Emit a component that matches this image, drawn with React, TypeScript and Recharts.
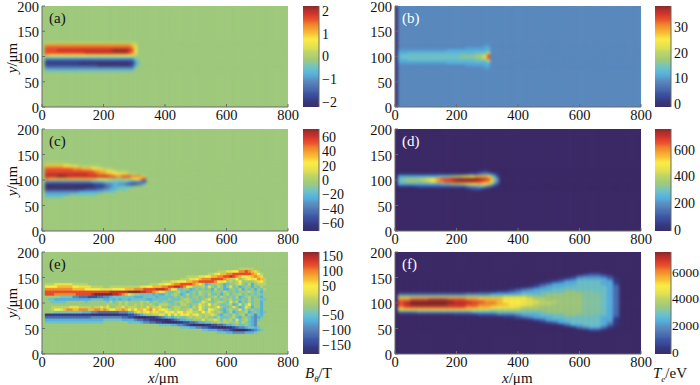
import { Bar, BarChart, Cell, Scatter, ScatterChart, XAxis, YAxis } from "recharts";

// colour levels 0-f low to high, g-i are in-between shades
const palette = [
  "#3c2a66", "#35377f", "#3a4f9f", "#4a6db1", "#5a89bd", "#55b1df", "#6fc3c6", "#9fc97d",
  "#b9d36a", "#e6e24e", "#fbec45", "#f9b933", "#f28b2d", "#e8492a", "#c42f2a", "#7c2a2a",
  "#589dce", "#62bad3", "#86c6a2",
];

const xTicks = [0, 200, 400, 600, 800];
const yTicks = [0, 50, 100, 150, 200];
const frameXY = [
  { x: 0, y: 0 },
  { x: 800, y: 200 },
];

const edgesA = [200, 130, 125, 120, 115, 110, 105, 100, 95, 90, 85, 80, 75, 70, 0];
const rowsA = [
  "",
  "7888888888 8888888888 8888888888 87",
  "7ccccccccc cccccccccc cccccccccb 97",
  "7ddddddddd dddddddddd dddddddddc 97",
  "7ddddeeeee eeeeeeeeee eeefffffed a7",
  "7ddddddddd ddddeeeeee eeeeeeeedc 97",
  "7baaaaaaaa aaaaaaaaaa aaaaaaaaa9 87",
  "7555555555 5555555555 5555555555 i7",
  "7222222222 2222222222 2222222222 5i",
  "7111111111 1100000000 0000000011 46",
  "7222222222 2222222211 1111111112 5i",
  "7444444444 4444444444 4444444444 i7",
  "7666666666 6666666666 6666666666 77",
  "",
];

const edgesB = [200, 125, 120, 115, 110, 105, 100, 95, 90, 85, 80, 75, 0];
const rowsB = [
  "0",
  "0444444444 4444444444 444444444g g",
  "0444444444 4444444444 444gggggg5 5",
  "0ggggggggg ggggggg555 5555555555 h",
  "0555hhhhhh hhhhhhhhhh hhhhhh6666 9",
  "0h66666666 6666666666 6iiiii7789 d",
  "0h66666666 6666666666 6iiiii7789 d",
  "0555hhhhhh hhhhhhhhhh hhhhhh6666 9",
  "0ggggggggg ggggggg555 5555555555 h",
  "0444444444 4444444444 444gggggg5 5",
  "0444444444 4444444444 444444444g g",
  "0",
];

const edgesC = [200, 135, 130, 125, 120, 115, 110, 105, 100, 95, 90, 85, 80, 75, 70, 65, 0];
const rowsC = [
  "",
  "7888888887",
  "7bbbbbbaaa 9988888887",
  "7ddddddddd cccbbbaa99 8887777777",
  "7ddddddddd dddddddccb ba99888877",
  "7eeeeeeeee eeeeedddcc cbbaa99988 8777",
  "7eeeefffee eeeeeeeeee eeddccdddc ccb87",
  "7cbbbbbbbb bbbbbbbbaa 9987777889 aacd7",
  "7444444444 4444445555 6666666654 44327",
  "7111111111 1111111222 3445544322 23467",
  "7000000000 0000000111 2345566666 777",
  "7111111111 1111222233 4455666677",
  "7444444444 4455555555 6666777777",
  "7555555556 6666666677",
  "7666666777",
  "",
];

const edgesD = [200, 120, 115, 110, 105, 100, 95, 90, 85, 80, 0];
const rowsD = [
  "",
  "0000000000 0000000000 0000000112 1000",
  "0111111111 1111111111 1111222344 43210",
  "0555555555 5555666677 8899aabbbb a8520",
  "0667777788 99abcdddee ffffffffee db740",
  "0667777778 89abccddde eeeeeeeddc ca640",
  "0555555555 5555566677 78899aabaa 97420",
  "0111111222 2222222222 2223444554 32100",
  "0000000000 0000000000 0001122211 0000",
  "",
];

const edgesE = [
  200, 170, 165, 160, 155, 150, 145, 140, 135, 130, 125, 120, 115, 110, 105, 100, 95, 90, 85, 80,
  75, 70, 65, 60, 55, 50, 45, 40, 0,
];
const rowsE = [
  "",
  "7777777777 7777777777 7777777777 7777777777 7777777777 7777777777 7777888887",
  "7777777777 7777777777 7777777777 7777777777 7777777777 7777777888 99aaccdcb9 8777",
  "7777777777 7777777777 7777777777 7777777777 7777777777 7777889abb ccddddddcb a877",
  "7777777777 7777777777 7777777777 7777777777 7777777888 899aabbccd dedcbaa9bc b977",
  "7777777777 7777777777 7777777777 7777777777 7777788899 abcccddddc b88a789a9a cb87",
  "7777777777 7777777777 7777777777 7777777778 8899aaabbc cdddddca9a 7878a77778 9a87",
  "7888999999 8888877777 7777777777 7777788899 aabccddddc ba85677875 6778976857 8887",
  "7aaaabbbbb aa99998888 7788888888 8899aabbbc cddeedca97 7786976875 7967567757 6877",
  "7ccccccccc bbbbaaaaa9 999aaaabbb cccddddeee dca9667756 7676758675 5776857675 7687",
  "7ddddddddd dddddddddd ddeeeeeeff ffeeddcba9 7667866567 6877767768 7676777876 7577",
  "7dddcccccc cdddddefff fffeedcb98 7766665655 7678756867 6876866757 8677867676 7677",
  "7777776666 4433322233 4456666666 5556666566 6667676767 7676778687 6768567867 6577",
  "7766555555 5555556666 5565656656 6666556666 6766678876 7678967767 7867676867 7667",
  "7776666677 7777677777 7686787877 7787867767 7667787876 6798767887 6978576867 7577",
  "7777777777 7777777777 7877787877 8787787688 8767688767 7987a78766 7856968a67 7577",
  "7778888889 9988887889 8977889788 8787978897 7678877768 7a87878a76 6797569857 7577",
  "7778aa9bcc bbcccbbccb cbaabbcbab abbabcab9a 9878877897 7a86a98765 7867968676 6577",
  "7777666666 6665554433 3333344455 8989a89988 a9a8aab998 87a8987875 6856778567 6567",
  "7111111111 1111110000 0000011122 3456778899 7a7a8a9a89 a878898657 7686785764 6577",
  "7333333333 3333334444 4444443322 1000111234 5656766787 8878776866 6786577654 5677",
  "7555555555 5555555555 6666665555 4332211001 0123455667 7797889868 7869678654 6777",
  "7666666666 6666666666 7777777766 6654433221 1000112233 4556677878 8778687654 7777",
  "7777777777 7777777777 7777777777 7777777766 6655443210 0001122334 5567667654 7777",
  "7777777777 7777777777 7777777777 7777777777 7777766655 4433211000 1123445665 6777",
  "7777777777 7777777777 7777777777 7777777777 7777777777 7766555443 3210001234 5677",
  "7777777777 7777777777 7777777777 7777777777 7777777777 7777777666 5544445556 7777",
  "",
];

// f is smooth, so its columns are 20 wide and start at -10
const edgesF = [
  200, 160, 155, 150, 145, 140, 135, 130, 125, 120, 115, 110, 105, 100, 95, 90, 85, 80, 75, 70, 65,
  60, 55, 50, 45, 0,
];
const rowsF = [
  "",
  "0000000000 0000000000 0000000000 0122100000",
  "0000000000 0000000000 0000000001 3444320000",
  "0000000000 0000000000 0000000123 5555531000",
  "0000000000 0000000000 0000012355 6666551000",
  "0000000000 0000000000 0001235555 6666552000",
  "0000000000 0000000000 0012455566 6666653000",
  "0000000000 0000000001 2345556666 6666653000",
  "0000000000 0000111223 4555666677 iii6653000",
  "0333333333 3344445555 5666677777 7iii653000",
  "0888888888 8888888899 9987777777 7iii653000",
  "0ccdddeeed ddccbbbbaa aa98877777 7iii653000",
  "0defffffff eeeddccbaa a999888777 7iii653000",
  "0deffffffe eeddcccbba aa98887777 7iii653000",
  "0cdddddddd ddccbbaaaa 9888777777 7iii653000",
  "0999999999 9999998888 8777777777 7iii653000",
  "0333444444 4445555666 6666677777 7iii653000",
  "0000000000 1111222333 4555666677 iii6653000",
  "0000000000 0000000011 2345556666 6666552000",
  "0000000000 0000000000 0012355566 6666551000",
  "0000000000 0000000000 0000123556 6666541000",
  "0000000000 0000000000 0000000135 5666531000",
  "0000000000 0000000000 0000000001 3455310000",
  "0000000000 0000000000 0000000000 0122100000",
  "",
];

const barEdges = [16, 15, 14, 13, 12, 11, 10, 9, 8, 7, 6, 5, 4, 3, 2, 1, 0];
const barRows = ["f", "e", "d", "c", "b", "a", "9", "8", "7", "6", "5", "4", "3", "2", "1", "0"];

const ticksA = [-2, -1, 0, 1, 2];
const ticksB = [0, 10, 20, 30];
const ticksC = [-60, -40, -20, 0, 20, 40, 60];
const ticksD = [0, 200, 400, 600];
const ticksE = [-150, -100, -50, 0, 50, 100, 150];
const ticksF = [0, 2000, 4000, 6000];

const panels = [
  { name: "(a)", edges: edgesA, rows: rowsA, bg: "7", x: 42, y: 6, h: 101, ink: "#111", barX: 303, ticks: ticksA, range: [-2.2, 2.2] },
  { name: "(b)", edges: edgesB, rows: rowsB, bg: "4", x: 395, y: 6, h: 101, ink: "#fff", barX: 655, ticks: ticksB, range: [-1, 38] },
  { name: "(c)", edges: edgesC, rows: rowsC, bg: "7", x: 42, y: 129, h: 102, ink: "#111", barX: 303, ticks: ticksC, range: [-71, 71] },
  { name: "(d)", edges: edgesD, rows: rowsD, bg: "0", x: 395, y: 129, h: 102, ink: "#fff", barX: 655, ticks: ticksD, range: [-10, 755] },
  { name: "(e)", edges: edgesE, rows: rowsE, bg: "7", x: 42, y: 252, h: 102, ink: "#111", barX: 303, ticks: ticksE, range: [-182, 165] },
  { name: "(f)", edges: edgesF, rows: rowsF, bg: "0", x: 395, y: 252, h: 102, ink: "#fff", barX: 655, ticks: ticksF, range: [-150, 7500], xStart: -10, xStep: 20 },
];

const serif = "'Liberation Serif', serif";
const axisInk = "#6b6b6b";
const plotW = 246;
const barW = 16;
const minus = (v: number) => String(v).replace("-", "\u2212");
const noMark = () => null;

type FieldProps = {
  left: number;
  top: number;
  width: number;
  height: number;
  edges: number[];
  rows: string[];
  bg: string;
  xStart?: number;
  xStep?: number;
  xSpan?: number;
  blur: number;
  bleed?: number;
};

function Field({ left, top, width, height, edges, rows, bg, xStart = 0, xStep = 10, xSpan = 800, blur, bleed = 0 }: FieldProps) {
  const nCols = Math.ceil((xSpan - xStart) / xStep);
  const scale = width / xSpan;
  const bottomUp = rows.map((r, i) => ({ levels: r.replace(/ /g, ""), size: edges[i] - edges[i + 1] })).reverse();
  const cols = Array.from({ length: nCols }, (_, c) => {
    const d: Record<string, number> = { col: c };
    bottomUp.forEach((r, i) => {
      d[`r${i}`] = r.size;
    });
    return d;
  });
  const colorAt = (levels: string, c: number) => palette[parseInt(levels[c] ?? bg, 36)];
  return (
    <div style={{ position: "absolute", left, top, width, height, overflow: "hidden", background: palette[parseInt(bg, 36)] }}>
      <div style={{ position: "absolute", left: xStart * scale - bleed, top: -bleed, filter: `blur(${blur}px)` }}>
        <BarChart
          width={nCols * xStep * scale + bleed * 2}
          height={height + bleed * 2}
          data={cols}
          margin={{ top: 0, right: 0, bottom: 0, left: 0 }}
          barCategoryGap={0}
          barGap={0}
        >
          <XAxis dataKey="col" hide />
          <YAxis type="number" hide domain={[edges[edges.length - 1], edges[0]]} />
          {bottomUp.map((r, i) => (
            <Bar key={i} dataKey={`r${i}`} stackId="f" isAnimationActive={false}>
              {cols.map((_, c) => (
                <Cell key={c} fill={colorAt(r.levels, c)} stroke={colorAt(r.levels, c)} strokeWidth={0.5} />
              ))}
            </Bar>
          ))}
        </BarChart>
      </div>
    </div>
  );
}

function PlotFrame({ x, y, h }: { x: number; y: number; h: number }) {
  const tick = { fill: "#111", fontSize: 14.5, fontFamily: serif };
  return (
    <div style={{ position: "absolute", left: x - 40, top: y - 10 }}>
      <ScatterChart width={plotW + 60} height={h + 40} margin={{ top: 10, right: 20, bottom: 0, left: 0 }}>
        <XAxis xAxisId="b" type="number" dataKey="x" domain={[0, 800]} ticks={xTicks} interval={0} height={30} tick={tick} stroke={axisInk} tickSize={-3} tickMargin={6} />
        <XAxis xAxisId="t" orientation="top" type="number" dataKey="x" domain={[0, 800]} ticks={xTicks} interval={0} height={0} tickFormatter={() => ""} stroke={axisInk} tickSize={-3} />
        <YAxis yAxisId="l" type="number" dataKey="y" domain={[0, 200]} ticks={yTicks} interval={0} width={40} tick={{ ...tick, dy: 1 }} stroke={axisInk} tickSize={-3} tickMargin={6} />
        <YAxis yAxisId="r" orientation="right" type="number" dataKey="y" domain={[0, 200]} ticks={yTicks} interval={0} width={0} tickFormatter={() => ""} stroke={axisInk} tickSize={-3} />
        <Scatter xAxisId="b" yAxisId="l" data={frameXY} shape={noMark} isAnimationActive={false} />
        <Scatter xAxisId="t" yAxisId="r" data={frameXY} shape={noMark} isAnimationActive={false} />
      </ScatterChart>
    </div>
  );
}

function BarFrame({ x, y, h, ticks, range }: { x: number; y: number; h: number; ticks: number[]; range: number[] }) {
  const ends = [
    { x: 0, y: range[0] },
    { x: 1, y: range[1] },
  ];
  return (
    <div style={{ position: "absolute", left: x, top: y - 10 }}>
      <ScatterChart width={barW + 45} height={h + 20} margin={{ top: 10, right: 0, bottom: 10, left: 0 }}>
        <XAxis xAxisId="b" type="number" dataKey="x" domain={[0, 1]} ticks={[]} height={0} stroke={axisInk} />
        <XAxis xAxisId="t" orientation="top" type="number" dataKey="x" domain={[0, 1]} ticks={[]} height={0} stroke={axisInk} />
        <YAxis yAxisId="l" type="number" dataKey="y" domain={range} ticks={[]} width={0} stroke={axisInk} />
        <YAxis
          yAxisId="r"
          orientation="right"
          type="number"
          dataKey="y"
          domain={range}
          ticks={ticks}
          interval={0}
          width={45}
          tick={{ fill: "#111", fontSize: ticks.includes(2000) ? 13.5 : 14, fontFamily: serif, textAnchor: "start" }}
          tickFormatter={minus}
          stroke={axisInk}
          tickSize={0}
          tickMargin={ticks.includes(2000) ? 1 : 3}
        />
        <Scatter xAxisId="b" yAxisId="l" data={ends} shape={noMark} isAnimationActive={false} />
        <Scatter xAxisId="t" yAxisId="r" data={ends} shape={noMark} isAnimationActive={false} />
      </ScatterChart>
    </div>
  );
}

const note = { position: "absolute", fontFamily: serif, fontSize: 15, color: "#111", whiteSpace: "nowrap", lineHeight: "14px" } as const;

export default function App() {
  return (
    <div style={{ position: "absolute", left: 0, top: 0, width: 700, height: 385, background: "#fff", overflow: "hidden" }}>
      {panels.map((p) => (
        <div key={p.name}>
          <Field
            left={p.x}
            top={p.y}
            width={plotW}
            height={p.h}
            edges={p.edges}
            rows={p.rows}
            bg={p.bg}
            xStart={p.xStart}
            xStep={p.xStep}
            blur={p.name === "(e)" ? 0.7 : 1.5}
          />
          <Field left={p.barX} top={p.y} width={barW} height={p.h} edges={barEdges} rows={barRows} bg="7" xStep={800} blur={2} bleed={5} />
          <PlotFrame x={p.x} y={p.y} h={p.h} />
          <BarFrame x={p.barX} y={p.y} h={p.h} ticks={p.ticks} range={p.range} />
          <span style={{ ...note, left: p.x + 7, top: p.y + 5, color: p.ink }}>{p.name}</span>
        </div>
      ))}
      {[58, 181, 303].map((cy) => (
        <span key={cy} style={{ ...note, left: -8, top: cy - 7, width: 40, textAlign: "center", transform: "rotate(-90deg)" }}>
          <i>y</i>/μm
        </span>
      ))}
      <span style={{ ...note, left: 148, top: 371 }}>
        <i>x</i>/μm
      </span>
      <span style={{ ...note, left: 502, top: 371 }}>
        <i>x</i>/μm
      </span>
      <span style={{ ...note, left: 305, top: 366 }}>
        <i>B</i>
        <sub style={{ fontSize: 9, lineHeight: 0 }}>
          <i>θ</i>
        </sub>
        /T
      </span>
      <span style={{ ...note, left: 653, top: 366 }}>
        <i>T</i>
        <sub style={{ fontSize: 9, lineHeight: 0 }}>
          <i>e</i>
        </sub>
        /eV
      </span>
    </div>
  );
}
